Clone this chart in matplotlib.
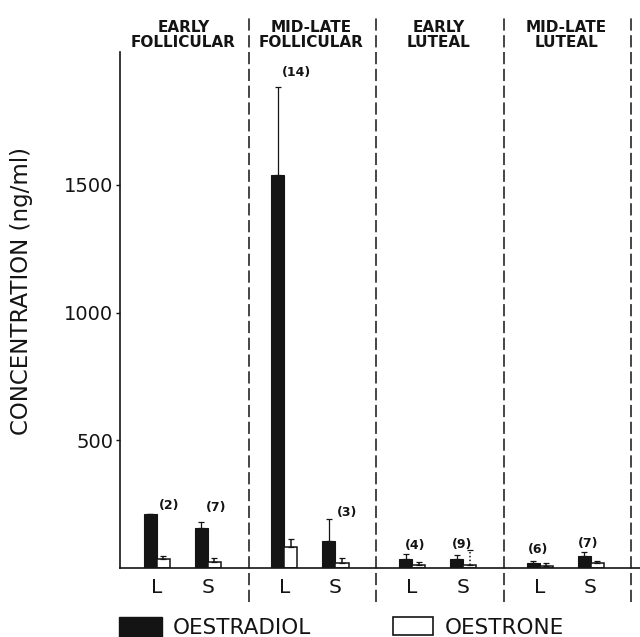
import numpy as np
import matplotlib.pyplot as plt
from matplotlib.patches import Rectangle

plt.rcParams['font.family'] = ['DejaVu Sans']

# Cycle phases, each with an L and an S sample
phases = ["EARLY\nFOLLICULAR", "MID-LATE\nFOLLICULAR", "EARLY\nLUTEAL", "MID-LATE\nLUTEAL"]
sites = ["L", "S"]

# Mean concentrations (ng/ml) and upper error, in order phase by phase, L then S
oestradiol = [211, 156, 1540, 106, 34, 34, 18, 48]
oestradiol_err = [0, 26, 345, 86, 20, 17, 11, 14]
oestrone = [34, 25, 84, 21, 12, 12, 9, 18]
oestrone_err = [13, 13, 29, 20, 10, 59, 9, 10]
n_obs = [2, 7, 14, 3, 4, 9, 6, 7]

# Label nudges in pixels (dx, dy above the tallest mark of each pair)
label_dx = [12, 8, 12, 12, 3, -1, -1, -2]
label_dy = [9, 14, 14, 6, 9, 5, 11, 9]
# oestrone error line styles (one drawn dotted)
oestrone_err_style = ['solid'] * 5 + [(0, (1, 1.5))] + ['solid'] * 2

ink = '#141414'
fig = plt.figure(figsize=(6.4, 6.37), dpi=100)
ax = fig.add_axes([0.1875, 0.1083, 0.8125, 0.810])

gap = 2.5  # spacing between phases, in units of the L-S spacing
x = np.array([g * gap + s for g in range(len(phases)) for s in range(len(sites))], dtype=float)
w = 0.255

ax.bar(x - w / 2, oestradiol, w, color=ink, edgecolor=ink, linewidth=0.8, zorder=2)
ax.bar(x + w / 2, oestrone, w, color='white', edgecolor=ink, linewidth=1.1, zorder=2)
zero = np.zeros(len(x))
ax.errorbar(x - w / 2, oestradiol, yerr=[zero, oestradiol_err], fmt='none',
            ecolor=ink, elinewidth=0.9, capsize=2.5, capthick=0.9, zorder=3)
eb = ax.errorbar(x + w / 2, oestrone, yerr=[zero, oestrone_err], fmt='none',
                 ecolor=ink, elinewidth=0.9, capsize=2.5, capthick=0.9, zorder=3)
eb[2][0].set_linestyle(oestrone_err_style)
eb[2][0].set_linewidth(1.1)

# number of observations over each pair
tops = np.maximum(np.array(oestradiol) + np.array(oestradiol_err),
                  np.array(oestrone) + np.array(oestrone_err))
for xi, top, n, dx, dy in zip(x, tops, n_obs, label_dx, label_dy):
    ax.annotate(f"({n})", xy=(xi, top), xytext=(dx * 0.72, dy * 0.72),
                textcoords='offset points', ha='center', va='center',
                fontsize=9, fontweight='bold', color=ink)

# dashed separators between phases, running past the axes
dividers = [g * gap + 1.8 for g in range(len(phases))]
ax.vlines(dividers, -0.066, 1.072, transform=ax.get_xaxis_transform(),
          clip_on=False, colors=ink, linewidth=1.1, linestyles=(0, (8, 3)))

# phase headings
for g, name in enumerate(phases):
    ax.text(g * gap + 0.52, 1.033, name, transform=ax.get_xaxis_transform(),
            ha='center', va='center', fontsize=11, fontweight='bold',
            linespacing=1.0, color=ink)

ax.set_xlim(-0.725, 9.47)
ax.set_ylim(0, 2020)
ax.set_yticks([500, 1000, 1500])
ax.set_xticks(x)
ax.set_xticklabels(sites * len(phases))
ax.tick_params(axis='x', length=0, pad=7, labelsize=14.5, colors=ink)
ax.tick_params(axis='y', direction='out', length=3, width=1, pad=2,
               labelsize=14, colors=ink)
for side in ['top', 'right']:
    ax.spines[side].set_visible(False)
for side in ['left', 'bottom']:
    ax.spines[side].set_linewidth(1.2)
    ax.spines[side].set_color(ink)

ax.set_ylabel("CONCENTRATION (ng/ml)", fontsize=16.5, color=ink)
ax.yaxis.set_label_coords(-0.167, 0.536)

# legend along the bottom edge
fig.patches.append(Rectangle((0.186, -0.005), 0.067, 0.0364, transform=fig.transFigure,
                             facecolor=ink, edgecolor=ink))
fig.text(0.270, 0.004, "OESTRADIOL", fontsize=15.5, va='baseline', ha='left', color=ink)
fig.patches.append(Rectangle((0.614, 0.0031), 0.0625, 0.0283, transform=fig.transFigure,
                             facecolor='white', edgecolor=ink, linewidth=1.2))
fig.text(0.695, 0.004, "OESTRONE", fontsize=15.5, va='baseline', ha='left', color=ink)

fig.savefig("out.png", dpi=100)
